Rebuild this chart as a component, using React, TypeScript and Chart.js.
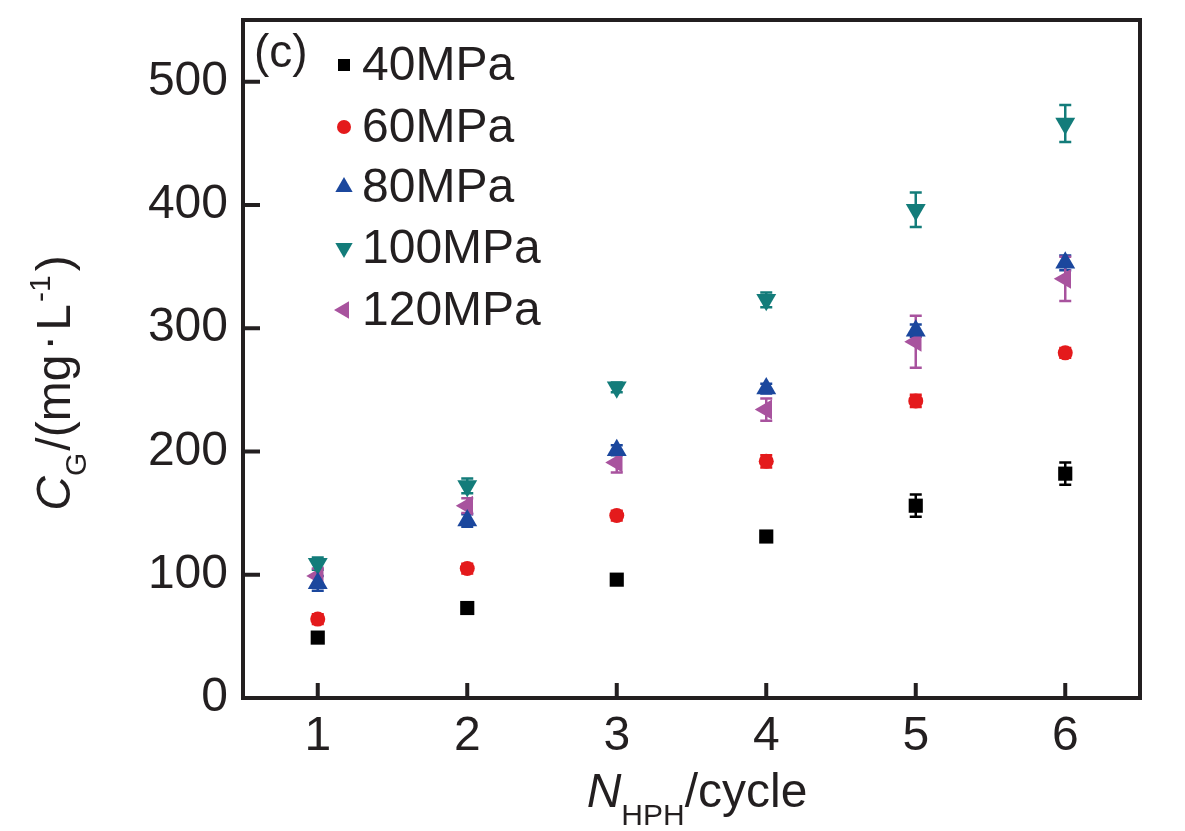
import React, { useEffect, useRef } from "react";
import { Chart, registerables } from "chart.js";

Chart.register(...registerables);

const CYCLES = [1, 2, 3, 4, 5, 6];
const X_TICKS = [1, 2, 3, 4, 5, 6];
const Y_TICKS = [0, 100, 200, 300, 400, 500];

const SERIES_LABELS = ["40MPa", "60MPa", "80MPa", "100MPa", "120MPa"];
const P40 = [49, 73, 96, 131, 156, 182];
const P60 = [64, 105, 148, 192, 241, 280];
const P80 = [93, 144, 201, 251, 298, 353];
const P100 = [109, 172, 252, 323, 396, 466];
const P120 = [99, 156, 191, 234, 289, 340];

const E40 = [3, 3, 3, 4, 9, 9];
const E60 = [4, 4, 4, 5, 5, 4];
const E80 = [6, 5, 4, 4, 5, 6];
const E100 = [5, 6, 4, 6, 14, 15];
const E120 = [6, 6, 8, 9, 21, 18];

const VALUES = [P40, P60, P80, P100, P120];
const ERRORS = [E40, E60, E80, E100, E120];
const COLORS = ["#000000", "#e41a1c", "#1b479d", "#137c7a", "#a8539e"];
const STYLES = ["rect", "circle", "triangle", "triangle", "triangle"];
const ROTATIONS = [0, 0, 0, 180, 270];
const RADII = [10, 7.5, 11.5, 11.5, 11.5];

const FONT = "'Liberation Sans', Arial, Helvetica, sans-serif";
const INK = "#231f20";

function drawMarker(ctx: CanvasRenderingContext2D, style: string, rot: number, r: number, x: number, y: number, color: string) {
  ctx.save();
  ctx.fillStyle = color;
  ctx.translate(x, y);
  ctx.rotate((rot * Math.PI) / 180);
  ctx.beginPath();
  if (style === "rect") {
    const s = r * Math.SQRT1_2;
    ctx.rect(-s, -s, 2 * s, 2 * s);
  } else if (style === "circle") {
    ctx.arc(0, 0, r, 0, Math.PI * 2);
  } else {
    const w = r * Math.sin(Math.PI / 3);
    ctx.moveTo(0, -r);
    ctx.lineTo(w, r / 2);
    ctx.lineTo(-w, r / 2);
    ctx.closePath();
  }
  ctx.fill();
  ctx.restore();
}

const errorBarPlugin = {
  id: "errorBars",
  beforeDatasetsDraw(chart: any) {
    const ctx = chart.ctx;
    const xs = chart.scales.x;
    const ys = chart.scales.y;
    ctx.save();
    ctx.lineWidth = 2.5;
    chart.data.datasets.forEach((ds: any, i: number) => {
      ctx.strokeStyle = COLORS[i];
      ds.data.forEach((p: any, j: number) => {
        const e = ERRORS[i][j];
        const px = xs.getPixelForValue(p.x);
        const top = ys.getPixelForValue(p.y + e);
        const bot = ys.getPixelForValue(p.y - e);
        ctx.beginPath();
        ctx.moveTo(px, top);
        ctx.lineTo(px, bot);
        ctx.moveTo(px - 6, top);
        ctx.lineTo(px + 6, top);
        ctx.moveTo(px - 6, bot);
        ctx.lineTo(px + 6, bot);
        ctx.stroke();
      });
    });
    ctx.restore();
  },
};

const framePlugin = {
  id: "frame",
  afterDraw(chart: any) {
    const ctx = chart.ctx;
    const a = chart.chartArea;
    const xs = chart.scales.x;
    const ys = chart.scales.y;
    ctx.save();
    ctx.strokeStyle = INK;
    ctx.lineWidth = 4;
    ctx.strokeRect(a.left, a.top, a.right - a.left, a.bottom - a.top);
    ctx.beginPath();
    X_TICKS.forEach((t) => {
      const px = xs.getPixelForValue(t);
      ctx.moveTo(px, a.bottom);
      ctx.lineTo(px, a.bottom - 15);
    });
    Y_TICKS.forEach((t) => {
      const py = ys.getPixelForValue(t);
      ctx.moveTo(a.left, py);
      ctx.lineTo(a.left + 17, py);
    });
    ctx.stroke();

    // panel tag
    ctx.fillStyle = INK;
    ctx.font = `46px ${FONT}`;
    ctx.textBaseline = "alphabetic";
    ctx.textAlign = "left";
    ctx.fillText("(c)", 254, 67);

    // legend
    const rowY = [65, 127, 187, 248, 310];
    chart.data.datasets.forEach((ds: any, i: number) => {
      const r = STYLES[i] === "rect" ? 8.5 : STYLES[i] === "circle" ? 7 : 10;
      drawMarker(ctx, STYLES[i], ROTATIONS[i], r, 344, rowY[i], COLORS[i]);
      ctx.fillStyle = INK;
      ctx.font = `48px ${FONT}`;
      ctx.textBaseline = "middle";
      ctx.fillText(ds.label, 362, rowY[i] + 2);
    });

    // x axis title
    ctx.textBaseline = "alphabetic";
    const big = 48;
    const small = 30;
    ctx.font = `italic ${big}px ${FONT}`;
    const wN = ctx.measureText("N").width;
    ctx.font = `${small}px ${FONT}`;
    const wH = ctx.measureText("HPH").width;
    ctx.font = `${big}px ${FONT}`;
    const wC = ctx.measureText("/cycle").width;
    let x0 = 697 - (wN + wH + wC) / 2;
    const by = 807;
    ctx.font = `italic ${big}px ${FONT}`;
    ctx.fillText("N", x0, by);
    x0 += wN;
    ctx.font = `${small}px ${FONT}`;
    ctx.fillText("HPH", x0, by + 18);
    x0 += wH;
    ctx.font = `${big}px ${FONT}`;
    ctx.fillText("/cycle", x0, by);

    // y axis title
    ctx.save();
    ctx.translate(70, 383);
    ctx.rotate(-Math.PI / 2);
    const parts = [
      { t: "C", f: `italic ${big}px ${FONT}`, dy: 0, gap: 0 },
      { t: "G", f: `${small}px ${FONT}`, dy: 16, gap: 2 },
      { t: "/(mg", f: `${big}px ${FONT}`, dy: 0, gap: 4 },
      { t: "\u00b7", f: `${big}px ${FONT}`, dy: -6, gap: 4 },
      { t: "L", f: `${big}px ${FONT}`, dy: 0, gap: 2 },
      { t: "-1", f: `${small}px ${FONT}`, dy: -20, gap: 4 },
      { t: ")", f: `${big}px ${FONT}`, dy: 0, gap: 0 },
    ];
    let total = 0;
    const widths = parts.map((p) => {
      ctx.font = p.f;
      const w = ctx.measureText(p.t).width + p.gap;
      total += w;
      return w;
    });
    let cx = -total / 2;
    parts.forEach((p, k) => {
      ctx.font = p.f;
      ctx.fillText(p.t, cx, p.dy);
      cx += widths[k];
    });
    ctx.restore();
    ctx.restore();
  },
};

export default function App() {
  const ref = useRef<HTMLCanvasElement | null>(null);
  useEffect(() => {
    if (!ref.current) return;
    const datasets = VALUES.map((vals, i) => ({
      label: SERIES_LABELS[i],
      data: CYCLES.map((c, j) => ({ x: c, y: vals[j] })),
      backgroundColor: COLORS[i],
      borderColor: COLORS[i],
      borderWidth: 0,
      pointStyle: STYLES[i],
      pointRotation: ROTATIONS[i],
      pointRadius: RADII[i],
      pointHoverRadius: RADII[i],
      showLine: false,
    }));
    const chart = new Chart(ref.current, {
      type: "scatter",
      data: { datasets },
      options: {
        animation: false,
        responsive: false,
        layout: { padding: { top: 20, right: 45, left: 0, bottom: 0 } },
        plugins: { legend: { display: false }, tooltip: { enabled: false } },
        scales: {
          x: {
            type: "linear",
            min: 0.5,
            max: 6.5,
            afterBuildTicks: (s: any) => {
              s.ticks = X_TICKS.map((v) => ({ value: v }));
            },
            afterFit: (s: any) => {
              s.height = 133;
              s.paddingLeft = 0;
              s.paddingRight = 0;
            },
            grid: { display: false, drawTicks: false },
            border: { display: false },
            ticks: { color: INK, font: { size: 48, family: FONT }, padding: 10 },
          },
          y: {
            type: "linear",
            min: 0,
            max: 550,
            afterBuildTicks: (s: any) => {
              s.ticks = Y_TICKS.map((v) => ({ value: v }));
            },
            afterFit: (s: any) => {
              s.width = 243;
              s.paddingTop = 0;
              s.paddingBottom = 0;
            },
            grid: { display: false, drawTicks: false },
            border: { display: false },
            ticks: { color: INK, font: { size: 48, family: FONT }, padding: 15 },
          },
        },
      },
      plugins: [errorBarPlugin, framePlugin],
    });
    return () => chart.destroy();
  }, []);
  return (
    <div style={{ position: "fixed", left: 0, top: 0, width: 1185, height: 831, background: "#ffffff" }}>
      <canvas ref={ref} width={1185} height={831} />
    </div>
  );
}
